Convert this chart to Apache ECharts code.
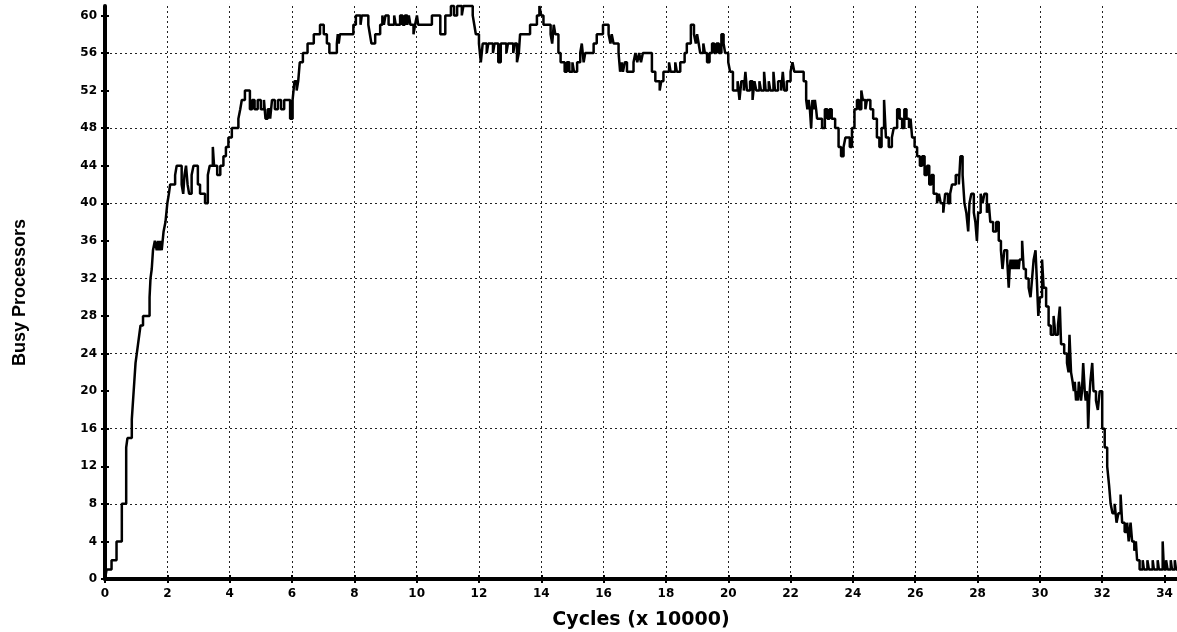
<!DOCTYPE html>
<html lang="en">
<head>
<meta charset="UTF-8">
<title>Busy Processors</title>
<script src="https://cdn.jsdelivr.net/npm/echarts@6/dist/echarts.min.js"></script>
<style>
  html, body { margin: 0; padding: 0; background: #fff; }
  #app { width: 1177px; height: 632px; }
</style>
</head>
<body>
<div id="app"></div>
<script>
// cycles in units of 10000, busy = number of busy processors (step held until next x)
const rampX = [0, 0.05, 0.21, 0.37, 0.54, 0.68, 0.72, 0.86, 0.9, 0.94, 0.98, 1.02, 1.06, 1.1, 1.14, 1.22, 1.43, 1.46, 1.5, 1.54, 1.6, 1.66, 1.7, 1.74, 1.78, 1.82, 1.88, 1.94, 2.0, 2.05, 2.09,
  2.25, 2.3, 2.46, 2.51, 2.55, 2.6, 2.65, 2.7, 2.78, 2.84, 2.98, 3.05, 3.21, 3.3, 3.36, 3.46, 3.5, 3.6, 3.7, 3.8, 3.88, 3.96, 4.07, 4.28, 4.34, 4.39, 4.49, 4.65,
  4.72, 4.8, 4.9, 5.0, 5.1, 5.15, 5.22, 5.3, 5.36, 5.45, 5.55, 5.65, 5.75, 5.94, 6.02, 6.08, 6.15, 6.2, 6.25, 6.35, 6.5];
const rampY = [0, 1, 2, 4, 8, 14, 15, 17, 19, 21, 23, 24, 25, 26, 27, 28, 30, 32, 33, 35, 36, 35, 36, 35, 36, 35, 37, 38, 40, 41, 42,
  43, 44, 42, 41, 43, 44, 42, 41, 43, 44, 42, 41, 40, 43, 44, 46, 44, 43, 44, 45, 46, 47, 48, 49, 50, 51, 52, 50,
  51, 50, 51, 50, 51, 49, 50, 49, 51, 50, 51, 50, 51, 49, 51, 53, 52, 53, 55, 56, 57];

const plateauX = [6.7, 6.9, 7.02, 7.12, 7.2, 7.44, 7.47, 7.5, 7.54, 7.97, 8.05, 8.2, 8.24, 8.45, 8.5, 8.55, 8.67, 8.83, 8.9, 8.95, 9.0, 9.1, 9.28, 9.33, 9.47, 9.55, 9.62, 9.7, 9.75, 9.8, 9.9, 9.95,
  10.01, 10.05, 10.49, 10.76, 10.92, 11.1, 11.2, 11.3, 11.45, 11.5, 11.8, 11.85, 11.9, 12.0, 12.06, 12.12, 12.25, 12.3, 12.45, 12.5, 12.62, 12.7, 12.88, 12.93, 13.1, 13.15, 13.22, 13.28, 13.32,
  13.64, 13.86, 13.94, 14.0, 14.07, 14.3, 14.35, 14.4, 14.45, 14.55, 14.62, 14.75, 14.82, 14.9, 15.0, 15.05, 15.15, 15.25, 15.3, 15.36];
const plateauY = [58, 59, 58, 57, 56, 57, 58, 57, 58, 59, 60, 59, 60, 59, 58, 57, 58, 59, 60, 59, 60, 59, 60, 59, 60, 59, 60, 59, 60, 59, 58, 59,
  60, 59, 60, 58, 60, 61, 60, 61, 60, 61, 60, 59, 58, 57, 55, 57, 56, 57, 56, 57, 55, 57, 56, 57, 56, 57, 55, 56, 58,
  59, 60, 61, 60, 59, 58, 57, 59, 58, 56, 55, 54, 55, 54, 55, 54, 55, 56, 57, 55];

const middleX = [15.41, 15.68, 15.78, 15.98, 16.16, 16.22, 16.26, 16.32, 16.48, 16.53, 16.58, 16.62, 16.68, 16.75, 16.96, 17.02, 17.08, 17.14, 17.2, 17.26, 17.55, 17.66, 17.8, 17.85, 17.92,
  18.1, 18.15, 18.3, 18.35, 18.46, 18.6, 18.67, 18.8, 18.9, 18.96, 19.0, 19.05, 19.1, 19.2, 19.25, 19.32, 19.4, 19.48, 19.55, 19.62, 19.7, 19.78, 19.85, 19.9,
  20.0, 20.06, 20.15, 20.3, 20.36, 20.42, 20.5, 20.55, 20.6, 20.7, 20.78, 20.84, 20.9, 21.0, 21.05, 21.15, 21.2, 21.3, 21.35, 21.45, 21.5, 21.6, 21.7, 21.75, 21.8, 21.88, 22.0, 22.06, 22.12];
const middleY = [56, 57, 58, 59, 58, 57, 58, 57, 56, 54, 55, 54, 55, 54, 55, 56, 55, 56, 55, 56, 54, 53, 52, 53, 54,
  55, 54, 55, 54, 55, 56, 57, 59, 58, 57, 58, 57, 56, 57, 56, 55, 56, 57, 56, 57, 56, 58, 57, 56,
  55, 54, 52, 53, 51, 53, 52, 54, 52, 53, 51, 53, 52, 53, 52, 54, 52, 53, 52, 54, 52, 53, 52, 54, 52, 53, 54, 55, 54];

const declineX = [22.42, 22.5, 22.54, 22.58, 22.62, 22.66, 22.7, 22.74, 22.78, 22.82, 22.85, 23.01, 23.1, 23.18, 23.25, 23.32, 23.43, 23.54, 23.62, 23.7, 23.76, 23.9, 23.97,
  24.05, 24.13, 24.2, 24.27, 24.32, 24.4, 24.45, 24.56, 24.65, 24.77, 24.85, 24.92, 25.0, 25.06, 25.15, 25.25, 25.31, 25.42, 25.5, 25.58, 25.65, 25.72, 25.8, 25.85, 25.9, 25.98,
  26.06, 26.15, 26.22, 26.3, 26.38, 26.45, 26.52, 26.59, 26.7, 26.76, 26.82, 26.9, 26.96, 27.05, 27.12, 27.18, 27.3, 27.4, 27.45, 27.52, 27.58, 27.64, 27.7, 27.74, 27.8, 27.88, 27.93, 27.98,
  28.02, 28.1, 28.16, 28.22, 28.3, 28.36];
const declineY = [53, 51, 50, 51, 50, 48, 51, 50, 51, 50, 49, 48, 50, 49, 50, 49, 48, 46, 45, 46, 47, 46, 48,
  50, 51, 50, 52, 51, 50, 51, 50, 49, 47, 46, 48, 51, 47, 46, 47, 48, 50, 49, 48, 50, 49, 48, 49, 47, 46,
  45, 44, 45, 43, 44, 42, 43, 41, 40, 41, 40, 39, 41, 40, 41, 42, 43, 42, 45, 43, 40, 39, 37, 40, 41, 39, 38, 36,
  39, 41, 40, 41, 39, 40];

const tailX = [28.41, 28.5, 28.6, 28.68, 28.75, 28.8, 28.86, 28.95, 29.0, 29.03, 29.06, 29.1, 29.13, 29.16, 29.2, 29.24, 29.28, 29.32, 29.35, 29.43, 29.48, 29.55, 29.64, 29.7, 29.75, 29.8, 29.86, 29.9, 29.95,
  30.0, 30.07, 30.12, 30.2, 30.28, 30.35, 30.44, 30.5, 30.58, 30.64, 30.68, 30.78, 30.87, 30.92, 30.95,
  31.0, 31.05, 31.09, 31.12, 31.16, 31.19, 31.22, 31.25, 31.29, 31.32, 31.35, 31.39, 31.44, 31.47, 31.5, 31.53, 31.55, 31.58, 31.62, 31.68, 31.72, 31.8, 31.86, 31.92,
  32.0, 32.08, 32.16, 32.22, 32.27, 32.33, 32.4, 32.46, 32.52, 32.59, 32.64, 32.72, 32.8, 32.85, 32.91, 32.96, 33.03, 33.08, 33.12, 33.2, 33.3, 33.34, 33.45, 33.5, 33.62, 33.66, 33.78, 33.82, 33.94, 33.98,
  34.05, 34.1, 34.2, 34.24, 34.33, 34.37, 34.4];
const tailY = [38, 37, 38, 36, 35, 33, 35, 34, 31, 33, 34, 33, 34, 33, 34, 33, 34, 33, 34, 36, 33, 32, 31, 30, 32, 34, 35, 32, 28,
  30, 34, 31, 29, 27, 26, 28, 26, 27, 29, 25, 24, 23, 22, 26,
  22, 21, 20, 21, 19, 20, 19, 21, 20, 19, 20, 23, 20, 19, 20, 19, 16, 19, 21, 23, 20, 19, 18, 20,
  16, 14, 12, 10, 8, 7, 8, 6, 7, 9, 6, 5, 6, 4, 6, 4, 3, 4, 2, 1, 2, 1, 2, 1, 2, 1, 2, 1, 4, 1,
  2, 1, 2, 1, 2, 1, 1];

const xTickValues = [0, 2, 4, 6, 8, 10, 12, 14, 16, 18, 20, 22, 24, 26, 28, 30, 32, 34];
const yTickValues = [0, 4, 8, 12, 16, 20, 24, 28, 32, 36, 40, 44, 48, 52, 56, 60];

const cycles = rampX.concat(plateauX, middleX, declineX, tailX);
const busy = rampY.concat(plateauY, middleY, declineY, tailY);
const points = cycles.map((c, i) => [c, busy[i]]);

const tickFont = { color: '#000', fontFamily: 'DejaVu Sans', fontWeight: 'bold', fontSize: 12 };
const dotted = { color: '#222', width: 1, type: [2, 3] };

var myChart = echarts.init(document.getElementById('app'), null, { renderer: 'canvas' });

var option = {
  animation: false,
  backgroundColor: '#fff',
  grid: { left: 105, right: 0, top: 6, bottom: 53, containLabel: false, outerBoundsMode: 'none' },
  xAxis: [
    {
      type: 'value', min: 0, max: 34.4, interval: 2, position: 'bottom',
      name: 'Cycles (x 10000)', nameLocation: 'middle', nameGap: 32,
      nameTextStyle: { color: '#000', fontFamily: 'DejaVu Sans', fontWeight: 'bold', fontSize: 19 },
      axisLine: { show: true, onZero: false, lineStyle: { color: '#000', width: 4 } },
      axisTick: { show: true, customValues: xTickValues, length: 4, lineStyle: { color: '#000', width: 2 } },
      axisLabel: Object.assign({ customValues: xTickValues, margin: 9 }, tickFont),
      splitLine: { show: true, showMinLine: false, showMaxLine: false, lineStyle: dotted }
    },
    {
      // inner half of the cross-shaped ticks
      type: 'value', min: 0, max: 34.4, interval: 2, position: 'bottom',
      axisLine: { show: false, onZero: false },
      axisTick: { show: true, inside: true, customValues: xTickValues, length: 4, lineStyle: { color: '#000', width: 2 } },
      axisLabel: { show: false },
      splitLine: { show: false }
    }
  ],
  yAxis: [
    {
      type: 'value', min: 0, max: 61, interval: 4, position: 'left',
      name: 'Busy Processors', nameLocation: 'middle', nameGap: 76, nameRotate: 90,
      nameTextStyle: { color: '#000', fontFamily: 'Liberation Sans', fontWeight: 'bold', fontSize: 18 },
      axisLine: { show: true, onZero: false, lineStyle: { color: '#000', width: 4 } },
      axisTick: { show: true, customValues: yTickValues, length: 4, lineStyle: { color: '#000', width: 2 } },
      axisLabel: Object.assign({ customValues: yTickValues, margin: 8 }, tickFont),
      splitLine: { show: false }
    },
    {
      type: 'value', min: 0, max: 61, interval: 4, position: 'left',
      axisLine: { show: false, onZero: false },
      axisTick: { show: true, inside: true, customValues: yTickValues, length: 4, lineStyle: { color: '#000', width: 2 } },
      axisLabel: { show: false },
      splitLine: { show: false }
    },
    {
      // horizontal grid only every 8
      type: 'value', min: 0, max: 61, interval: 8, position: 'left',
      axisLine: { show: false, onZero: false },
      axisTick: { show: false },
      axisLabel: { show: false },
      splitLine: { show: true, showMinLine: false, showMaxLine: false, lineStyle: dotted }
    }
  ],
  series: [
    {
      name: 'Busy Processors',
      type: 'line',
      xAxisIndex: 0,
      yAxisIndex: 0,
      step: 'end',
      data: points,
      showSymbol: false,
      symbol: 'none',
      clip: false,
      lineStyle: { color: '#000', width: 2.5 }
    }
  ]
};

myChart.setOption(option);
</script>
</body>
</html>
